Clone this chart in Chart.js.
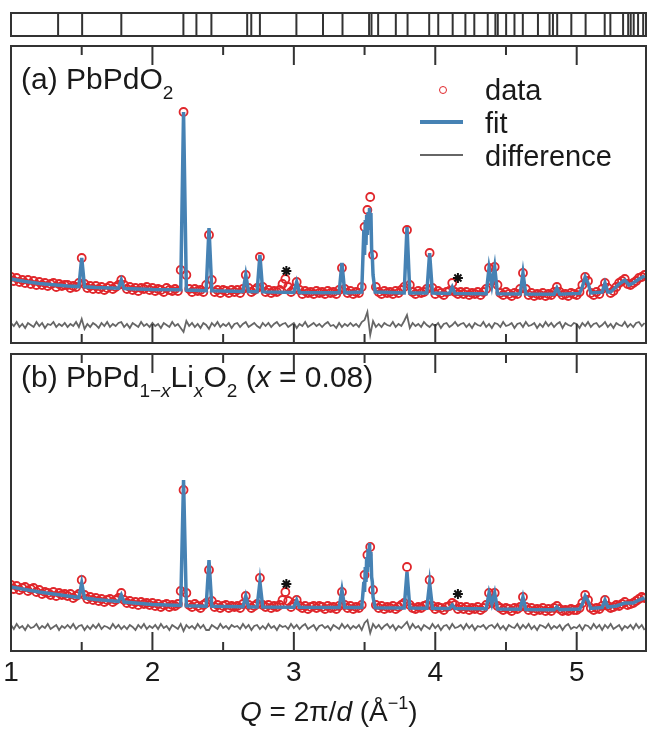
<!DOCTYPE html>
<html>
<head>
<meta charset="utf-8">
<script src="https://cdn.jsdelivr.net/npm/chart.js@4.4.1/dist/chart.umd.min.js"></script>
<style>
  html, body { margin: 0; padding: 0; background: #fff; }
  #fig { position: relative; width: 649px; height: 729px; overflow: hidden;
         font-family: "Liberation Sans", Arial, Helvetica, sans-serif; color: #1a1a1a; }
  #fig canvas { position: absolute; left: 0; }
  .lbl { position: absolute; white-space: nowrap; line-height: 1; }
  .lbl sub { font-size: 19px; vertical-align: baseline; position: relative; top: 10px; }
  .lbl sup { font-size: 18px; vertical-align: baseline; position: relative; top: -12px; }
  .key { position: absolute; }
</style>
</head>
<body>
<div id="fig">
  <canvas id="strip" width="649" height="50" style="top:0"></canvas>
  <canvas id="panelA" width="649" height="310" style="top:40px"></canvas>
  <canvas id="panelB" width="649" height="379" style="top:350px"></canvas>

  <div class="lbl" style="left:21px; top:64px; font-size:30px">(a) PbPdO<sub>2</sub></div>
  <div class="lbl" style="left:21px; top:362px; font-size:30px">(b) PbPd<sub>1&minus;<i>x</i></sub>Li<sub><i>x</i></sub>O<sub>2</sub> (<i>x</i> = 0.08)</div>

  <div class="key" style="left:439px; top:86px; width:8px; height:8px; border:1.5px solid #e0262b; border-radius:50%; box-sizing:border-box"></div>
  <div class="key" style="left:420px; top:120px; width:43px; height:4px; background:#4682b4"></div>
  <div class="key" style="left:420px; top:154px; width:43px; height:2px; background:#666"></div>
  <div class="lbl" style="left:485px; top:76px; font-size:29px">data</div>
  <div class="lbl" style="left:485px; top:109px; font-size:29px">fit</div>
  <div class="lbl" style="left:485px; top:142px; font-size:29px">difference</div>

  <div class="lbl" style="left:240px; top:698px; font-size:28px"><i>Q</i> = 2&pi;/<i>d</i> (&Aring;<sup>&minus;1</sup>)</div>
</div>

<script>
// Q grid of the measured pattern
const qStart = 1.0;
const qStep = 0.02;
const qMin = 1.0;
const qMax = 5.49;
const qTicks = [1.5, 2, 2.5, 3, 3.5, 4, 4.5, 5];
const qLabels = [1, 2, 3, 4, 5];

// Bragg reflection positions (top strip)
const reflections = [1.333, 1.503, 1.780, 2.219, 2.311, 2.417, 2.670, 2.699, 2.760, 3.018,
  3.206, 3.344, 3.532, 3.549, 3.596, 3.721, 3.804, 3.957, 4.021, 4.123, 4.213, 4.276,
  4.371, 4.425, 4.442, 4.501, 4.560, 4.619, 4.726, 4.808, 4.832, 4.862, 4.962, 5.063,
  5.198, 5.238, 5.328, 5.364, 5.382, 5.403, 5.434, 5.470];

// (a) PbPdO2 -- observed intensity on the Q grid (arb. units)
const obsA = [
  48, 44, 47, 43, 45, 42, 45, 41, 44, 40,   // 1.00
  43, 40, 42, 39, 41, 42, 38, 41, 39, 40,   // 1.20
  40, 37, 39, 38, 42, 67, 41, 37, 39, 36,   // 1.40
  39, 36, 38, 35, 37, 39, 36, 38, 40, 45,   // 1.60
  40, 36, 38, 35, 37, 34, 37, 36, 38, 35,   // 1.80
  37, 34, 36, 35, 33, 37, 35, 34, 36, 34,   // 2.00
  55, 213, 50, 36, 33, 36, 34, 35, 33, 40,  // 2.20
  90, 45, 33, 35, 32, 35, 34, 32, 35, 33,   // 2.40
  35, 32, 36, 50, 37, 33, 35, 37, 68, 38,   // 2.60
  33, 35, 32, 34, 33, 35, 41, 46, 38, 33,   // 2.80
  36, 43, 35, 31, 34, 32, 33, 31, 34, 32,   // 3.00
  33, 31, 34, 32, 33, 31, 35, 57, 36, 32,   // 3.20
  34, 31, 33, 32, 38, 98, 115, 128, 70, 38, // 3.40
  33, 31, 34, 32, 33, 31, 34, 32, 35, 38,   // 3.60
  95, 40, 33, 31, 34, 32, 33, 36, 72, 37,   // 3.80
  31, 34, 32, 30, 33, 34, 42, 33, 31, 33,   // 4.00
  31, 33, 30, 32, 31, 33, 30, 33, 36, 57,   // 4.20
  44, 58, 40, 32, 30, 33, 31, 29, 32, 31,   // 4.40
  36, 52, 36, 30, 32, 29, 31, 30, 32, 29,   // 4.60
  31, 30, 33, 38, 33, 30, 31, 29, 32, 31,   // 4.80
  30, 33, 40, 48, 44, 32, 30, 33, 31, 36,   // 5.00
  42, 37, 32, 34, 38, 42, 44, 46, 41, 40,   // 5.20
  42, 44, 47, 48, 50                        // 5.40
];

// (a) calculated profile, [Q, I]
const fitA = [
  [1.00, 46], [1.10, 43.5], [1.20, 41.4], [1.30, 40.2], [1.40, 39], [1.48, 38.4], [1.50, 67],
  [1.52, 38.2], [1.60, 37.5], [1.76, 36.7], [1.78, 45], [1.80, 36.5], [2.00, 35.5], [2.20, 35.2],
  [2.22, 213], [2.24, 35], [2.38, 34.3], [2.40, 97], [2.42, 34.2], [2.64, 33.5], [2.66, 50],
  [2.68, 33.4], [2.74, 33.2], [2.76, 70], [2.78, 33.1], [3.00, 32.6], [3.02, 43], [3.04, 32.5],
  [3.32, 32.2], [3.34, 62], [3.36, 32.2], [3.48, 33], [3.495, 95], [3.50, 70], [3.505, 105],
  [3.51, 80], [3.515, 110], [3.52, 90], [3.525, 113], [3.53, 95], [3.535, 117], [3.54, 100],
  [3.545, 112], [3.55, 75], [3.555, 68], [3.56, 50], [3.575, 33], [3.78, 32], [3.80, 98],
  [3.82, 32], [3.94, 32], [3.96, 72], [3.98, 32],
  [4.10, 31.6], [4.12, 38], [4.14, 31.6], [4.36, 31.3], [4.38, 57], [4.40, 40], [4.42, 58],
  [4.44, 31.2], [4.60, 31], [4.62, 52], [4.64, 31], [4.84, 30.8], [4.86, 37], [4.88, 30.8],
  [5.02, 31.6], [5.04, 38], [5.06, 48], [5.08, 42], [5.10, 32], [5.18, 32.8], [5.20, 42],
  [5.22, 33], [5.24, 33], [5.30, 41], [5.34, 45], [5.37, 40], [5.40, 42], [5.44, 46], [5.48, 49]
];

// (a) obs - calc on the Q grid
const diffA = [
  2, -1, 3, -2, 1, -3, 2, 0, -2, 3,
  -1, 2, -3, 1, 0, 3, -2, 1, -1, 2,
  -2, 1, -1, 3, -2, 6, -4, 1, -2, 2,
  0, -3, 2, -1, 3, -2, 1, -1, 2, 3,
  -2, 1, -3, 2, 0, -2, 3, -1, 1, -2,
  2, -1, 1, -3, 2, 0, -2, 3, -1, 1,
  -3, -7, 4, -1, 2, -2, 1, -3, 2, 0,
  -4, 2, -1, 3, -2, 1, -1, 2, -3, 1,
  2, -2, 1, 3, -2, 0, 2, -1, -3, 2,
  -1, 2, -2, 1, 3, -1, 1, 2, -2, 0,
  2, -3, 1, -1, 3, -2, 0, 2, -1, 1,
  -2, 1, 3, -1, 0, -3, 2, -2, 1, -1,
  2, -1, 1, -2, 3, 5, 13, -10, 4, -2,
  1, -2, 2, 0, -1, 3, -2, 1, -1, 4,
  10, -3, 2, -1, 1, -2, 3, 0, -2, 1,
  -1, 2, -3, 1, 2, -2, 0, 3, -1, 1,
  2, -2, 1, -3, 2, 0, -1, 3, -2, 1,
  -3, 2, 1, -2, 3, -1, 0, 2, -3, 1,
  2, -2, 3, -1, 0, 2, -3, 1, -2, 3,
  -1, 2, -2, 1, 3, -3, 2, 0, -1, 2,
  1, -3, 2, -1, 3, -2, 1, 2, -2, 0,
  3, -2, 1, -3, 2, 0, -1, 3, -2, 1,
  -2, 2, 3, -1, 2
];

// impurity peaks marked with *
const starsA = [[2.947, 54], [4.16, 47]];

// (b) PbPd1-xLixO2, x = 0.08
const obsB = [
  42, 38, 41, 37, 39, 40, 36, 38, 39, 35,   // 1.00
  37, 33, 35, 34, 32, 35, 31, 34, 32, 33,   // 1.20
  31, 33, 29, 31, 33, 47, 32, 28, 30, 27,   // 1.40
  29, 26, 28, 25, 27, 28, 25, 27, 29, 34,   // 1.60
  27, 24, 26, 23, 25, 22, 25, 23, 24, 22,   // 1.80
  24, 21, 23, 20, 22, 23, 20, 22, 21, 23,   // 2.00
  36, 137, 34, 22, 20, 23, 21, 19, 22, 24,  // 2.20
  57, 26, 20, 22, 19, 21, 22, 19, 21, 20,   // 2.40
  21, 19, 23, 31, 22, 19, 21, 23, 49, 22,   // 2.60
  20, 22, 19, 21, 20, 22, 27, 35, 26, 20,   // 2.80
  23, 27, 21, 19, 21, 18, 20, 21, 19, 21,   // 3.00
  20, 18, 21, 19, 20, 18, 21, 35, 22, 19,   // 3.20
  21, 18, 20, 19, 22, 52, 72, 80, 37, 22,   // 3.40
  19, 21, 18, 20, 19, 21, 18, 20, 22, 24,   // 3.60
  60, 22, 19, 18, 20, 19, 21, 22, 47, 21,   // 3.80
  18, 20, 19, 17, 20, 21, 24, 22, 18, 20,   // 4.00
  18, 20, 17, 19, 18, 20, 17, 19, 22, 34,   // 4.20
  24, 34, 21, 19, 17, 19, 18, 16, 19, 18,   // 4.40
  20, 30, 20, 17, 19, 16, 18, 17, 19, 16,   // 4.60
  18, 16, 19, 21, 18, 16, 17, 16, 18, 17,   // 4.80
  17, 19, 24, 32, 27, 19, 17, 19, 18, 21,   // 5.00
  27, 21, 19, 20, 22, 21, 23, 25, 22, 23,   // 5.20
  24, 26, 28, 30, 29                        // 5.40
];

const fitB = [
  [1.00, 40], [1.10, 37.5], [1.20, 35], [1.30, 33], [1.40, 31], [1.48, 29.5], [1.50, 44],
  [1.52, 29], [1.60, 27.5], [1.76, 25.6], [1.78, 32], [1.80, 25], [2.00, 22.5], [2.20, 21.5],
  [2.22, 147], [2.24, 21.3], [2.38, 20.8], [2.40, 67], [2.42, 20.7], [2.64, 20.2], [2.66, 31],
  [2.68, 20.1], [2.74, 20], [2.76, 45], [2.78, 20], [3.00, 19.8], [3.02, 27], [3.04, 19.7],
  [3.32, 19.5], [3.34, 37], [3.36, 19.5], [3.48, 19.5], [3.495, 45], [3.50, 35], [3.505, 60],
  [3.51, 45], [3.515, 70], [3.52, 55], [3.525, 78], [3.53, 60], [3.535, 84], [3.54, 65],
  [3.545, 75], [3.55, 50], [3.555, 45], [3.56, 30], [3.575, 19.3], [3.78, 19], [3.80, 55],
  [3.82, 19], [3.94, 18.8], [3.96, 44],
  [3.98, 18.8], [4.10, 18.6], [4.12, 22], [4.14, 18.6], [4.36, 18.2], [4.38, 34], [4.40, 23],
  [4.42, 34], [4.44, 18], [4.60, 17.8], [4.62, 30], [4.64, 17.6], [4.84, 17.2], [4.86, 20],
  [4.88, 17.2], [5.02, 18], [5.04, 23], [5.06, 31], [5.08, 26], [5.10, 18.5], [5.18, 19.5],
  [5.20, 27], [5.22, 20], [5.28, 21], [5.34, 24], [5.40, 24], [5.44, 27], [5.48, 29]
];

const diffB = [
  2, -2, 3, -1, 1, -3, 2, -1, 0, 3,
  -2, 1, -1, 3, -2, 0, 2, -3, 1, -1,
  2, -1, 3, -2, 1, 2, -3, 1, -2, 2,
  -1, 3, -2, 1, 0, -2, 3, -1, 2, -2,
  1, -2, 2, 0, -3, 2, -1, 3, -2, 1,
  -1, 2, -2, 3, -1, 1, -3, 2, 0, -2,
  3, -4, 2, -1, 1, -2, 3, -1, 2, -3,
  -3, 2, 0, -2, 3, -1, 1, -2, 2, 0,
  1, -2, 3, -1, 2, -3, 1, 2, -2, 1,
  -2, 3, -1, 1, -3, 2, 0, 1, -2, 3,
  -1, 2, -2, 1, 3, -2, 0, 2, -3, 1,
  2, -1, 1, -3, 2, 0, -2, 3, -1, 2,
  -2, 1, -1, 2, -3, 4, 7, -6, 3, -1,
  2, -2, 1, 3, -1, 2, -3, 1, -1, 2,
  5, -2, 3, -1, 1, -3, 2, 0, -2, 3,
  -1, 2, -3, 1, 2, -2, 3, -1, 0, 2,
  -2, 3, -1, 2, -3, 1, 0, 2, -2, 1,
  2, -1, 3, -2, 1, -3, 2, 0, -1, 3,
  -2, 2, -1, 3, -2, 1, -3, 2, 1, -1,
  3, -2, 1, -1, 2, -3, 1, 3, -2, 0,
  -1, 2, -3, 2, 1, -2, 3, -1, 2, -3,
  2, -1, 3, -2, 0, 2, -3, 1, -1, 2,
  -2, 3, -1, 2, -3
];

const starsB = [[2.947, 43], [4.16, 33]];

const RED = '#e0262b';
const BLUE = '#4682b4';
const GREY = '#666666';
const INK = '#333333';

// box + inward ticks, drawn after the data
const framePlugin = {
  id: 'frame',
  afterDatasetsDraw(chart, args, opts) {
    const { ctx, chartArea: a } = chart;
    const x = chart.scales.x;
    ctx.save();
    ctx.strokeStyle = INK;
    ctx.lineWidth = 2;
    ctx.strokeRect(a.left, a.top, a.right - a.left, a.bottom - a.top);
    if (opts.ticks) {
      ctx.beginPath();
      qTicks.forEach(v => {
        const px = x.getPixelForValue(v);
        const len = Number.isInteger(v) ? 19 : 9;
        ctx.moveTo(px, a.top);
        ctx.lineTo(px, a.top + len);
        ctx.moveTo(px, a.bottom);
        ctx.lineTo(px, a.bottom - len);
      });
      ctx.stroke();
    }
    ctx.restore();
  }
};

function onGrid(values) {
  return values.map((y, i) => ({ x: qStart + i * qStep, y }));
}

function pairs(list) {
  return list.map(([x, y]) => ({ x, y }));
}

function panel(id, obs, fit, diff, stars, yMin, yMax, padding, showAxis) {
  return new Chart(document.getElementById(id), {
    type: 'scatter',
    data: {
      datasets: [
        { label: 'fit', data: pairs(fit), showLine: true, borderColor: BLUE, borderWidth: 3.5,
          pointRadius: 0, order: 1 },
        { label: 'data', data: onGrid(obs), showLine: false, pointStyle: 'circle', pointRadius: 4,
          pointBorderWidth: 1.8, pointBorderColor: RED, pointBackgroundColor: 'rgba(0,0,0,0)', order: 2 },
        { label: 'difference', data: onGrid(diff), showLine: true, borderColor: GREY, borderWidth: 1.8,
          pointRadius: 0, order: 3 },
        { label: 'impurity', data: pairs(stars), showLine: false, pointStyle: 'star', pointRadius: 5,
          pointBorderWidth: 2, pointBorderColor: '#111', order: 0 }
      ]
    },
    options: {
      responsive: false,
      animation: false,
      events: [],
      layout: { padding, autoPadding: false },
      plugins: { legend: { display: false }, tooltip: { enabled: false }, frame: { ticks: true } },
      scales: {
        x: {
          type: 'linear', min: qMin, max: qMax, display: showAxis,
          grid: { display: false, drawTicks: false }, border: { display: false },
          afterBuildTicks: s => { s.ticks = qLabels.map(v => ({ value: v })); },
          afterFit: s => { s.paddingLeft = 0; s.paddingRight = 0; s.height = showAxis ? 78 : 0; },
          ticks: {
            autoSkip: false, maxRotation: 0, padding: 5, color: '#1a1a1a',
            font: { size: 28, family: '"Liberation Sans", Arial, sans-serif' },
            callback: v => String(v)
          }
        },
        y: { min: yMin, max: yMax, display: false }
      }
    },
    plugins: [framePlugin]
  });
}

// reflection marker strip
new Chart(document.getElementById('strip'), {
  type: 'scatter',
  data: {
    datasets: [{
      data: reflections.map(q => ({ x: q, y: 0.5 })),
      pointStyle: 'line', pointRotation: 90, pointRadius: 12,
      pointBorderWidth: 2, pointBorderColor: INK
    }]
  },
  options: {
    responsive: false,
    animation: false,
    events: [],
    layout: { padding: { left: 11, right: 3, top: 13, bottom: 14 }, autoPadding: false },
    plugins: { legend: { display: false }, tooltip: { enabled: false }, frame: { ticks: false } },
    scales: {
      x: { type: 'linear', min: qMin, max: qMax, display: false },
      y: { min: 0, max: 1, display: false }
    }
  },
  plugins: [framePlugin]
});

panel('panelA', obsA, fitA, diffA, starsA, -18, 279,
  { left: 11, right: 3, top: 6, bottom: 7 }, false);
panel('panelB', obsB, fitB, diffB, starsB, -24, 273,
  { left: 11, right: 3, top: 4, bottom: 0 }, true);
</script>
</body>
</html>
